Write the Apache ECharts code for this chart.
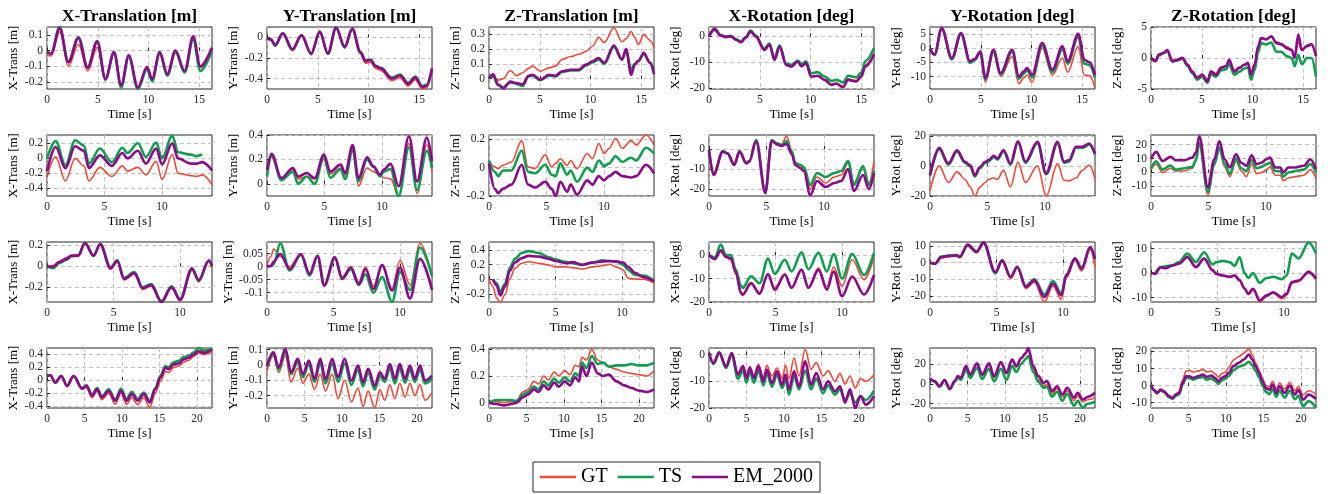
<!DOCTYPE html>
<html><head><meta charset="utf-8">
<script src="https://cdn.jsdelivr.net/npm/echarts@6/dist/echarts.min.js"></script>
<style>html,body{margin:0;padding:0;background:#fff}#c{width:1330px;height:494px}</style>
</head><body><div id="c"></div>
<script>
// ---------- DATA ----------
const colTitles = ['X-Translation [m]','Y-Translation [m]','Z-Translation [m]','X-Rotation [deg]','Y-Rotation [deg]','Z-Rotation [deg]'];
const yNames = ['X-Trans [m]','Y-Trans [m]','Z-Trans [m]','X-Rot [deg]','Y-Rot [deg]','Z-Rot [deg]'];
const seriesNames = ['GT','TS','EM_2000'];
const xMax = [16.25, 14.35, 12.4, 22];
const xTicksA = [0,5,10,15];
const xTicksB = [0,5,10];
const xTicksC = [0,5,10,15,20];

// Row 1
const T11=[0,0.4,1.25,2.1,3.1,4.0,4.95,5.75,6.6,7.3,8.05,8.95,9.85,10.35,11.1,11.85,12.65,13.55,14.4,15.1,16.25];
const GT11=[-0.03,-0.035,0.12,-0.1,0.04,-0.13,0.02,-0.19,-0.02,-0.225,-0.035,-0.235,-0.11,-0.185,-0.015,-0.155,-0.005,-0.135,0.08,-0.11,0.01];
const TS11=[-0.01,-0.02,0.15,-0.07,0.085,-0.105,0.06,-0.185,-0.015,-0.235,-0.04,-0.245,-0.12,-0.195,-0.02,-0.16,-0.01,-0.14,0.07,-0.13,0.0];
const EM11=[-0.01,-0.02,0.143,-0.075,0.08,-0.11,0.057,-0.18,-0.01,-0.22,-0.03,-0.235,-0.105,-0.18,-0.01,-0.15,0.0,-0.13,0.09,-0.1,0.02];
const YT11=[-0.2,-0.1,0,0.1], YR11=[-0.245,0.15];

const T12=[0,0.4,0.8,1.55,2.5,3.4,4.35,5.2,6.0,6.8,7.65,8.4,9.2,9.7,10.2,10.7,11.2,12.3,13.1,13.9,14.6,15.3,15.7,16.25];
const GT12=[-0.01,-0.03,-0.085,0.03,-0.13,0.01,-0.17,0.04,-0.165,0.085,-0.1,0.075,-0.16,-0.25,-0.24,-0.3,-0.32,-0.42,-0.39,-0.47,-0.41,-0.5,-0.49,-0.33];
const TS12=[-0.01,-0.02,-0.08,0.04,-0.12,0.02,-0.16,0.05,-0.16,0.09,-0.1,0.08,-0.15,-0.225,-0.215,-0.275,-0.295,-0.39,-0.36,-0.44,-0.38,-0.47,-0.46,-0.31];
const EM12=[-0.01,-0.02,-0.075,0.04,-0.115,0.02,-0.155,0.055,-0.155,0.095,-0.09,0.086,-0.14,-0.23,-0.22,-0.28,-0.3,-0.4,-0.37,-0.45,-0.39,-0.48,-0.47,-0.3];
const YT12=[-0.4,-0.2,0], YR12=[-0.5,0.1];

const T13=[0,0.4,0.9,1.4,2.1,2.7,3.3,3.9,4.3,5.05,5.9,6.55,7.2,8.05,8.85,9.55,10.2,10.8,11.35,12.3,13.1,13.5,14.0,14.35,14.7,15.25,15.85,16.25];
const GT13=[0,0.01,-0.01,0.0,0.055,0.02,0.04,0.07,0.085,0.05,0.073,0.085,0.13,0.15,0.165,0.185,0.22,0.28,0.245,0.345,0.25,0.27,0.32,0.28,0.23,0.3,0.26,0.21];
const TS13=[0,0.02,-0.045,-0.06,-0.025,-0.035,-0.05,0.015,0.02,-0.01,0.02,0.015,0.045,0.055,0.055,0.09,0.11,0.13,0.1,0.215,0.13,0.19,0.06,0.1,0.12,0.165,0.11,0.06];
const EM13=[0,0.03,-0.04,-0.065,-0.02,-0.03,-0.04,0.02,0.027,-0.007,0.027,0.02,0.05,0.06,0.06,0.095,0.118,0.14,0.107,0.225,0.13,0.2,0.027,0.095,0.12,0.175,0.107,0.03];
const YT13=[0,0.1,0.2,0.3], YR13=[-0.07,0.35];

const T14=[0,0.55,1.15,1.65,2.15,2.65,3.15,3.6,4.1,4.6,5.45,5.95,6.45,6.95,7.6,8.1,8.75,9.1,9.55,10.05,10.7,11.4,12.05,12.55,13.2,13.7,14.5,15.0,15.4,16.25];
const GT14=[0,2.5,0.2,-0.3,0,-1.3,-2.3,-0.7,1.6,-0.2,-5.4,-3.5,-9.2,-4.2,-11.2,-11.8,-10,-11.7,-10.6,-15.6,-15.4,-16.9,-18.6,-18,-19.4,-16.5,-17,-15,-11,-6.5];
const TS14=[0,3,0.5,0,0.2,-1,-2,-0.3,2.2,0.3,-4.8,-2.8,-8.5,-3.5,-10.5,-11,-9.3,-10.8,-9.6,-14.2,-13.8,-15.5,-17.2,-16.8,-17.8,-15.2,-15.8,-14,-9.5,-4.5];
const EM14=[0,2.8,0.3,-0.3,0,-1.3,-2.3,-0.6,1.9,0,-5.2,-3.2,-9,-3.9,-11,-11.6,-9.7,-11.5,-10.3,-15.5,-15.2,-16.8,-18.7,-18.3,-19.6,-16.8,-17.4,-15.5,-11.6,-7];
const YT14=[-20,-10,0], YR14=[-20.3,3.6];

const T15=[0,0.45,1.15,2.15,3.05,3.95,4.4,4.95,5.45,6.25,6.95,8.1,8.75,9.25,9.55,10.05,11.05,12.05,13.05,13.55,14.6,15.2,15.7,16.25];
const GT15=[-0.3,-2.3,7,-3.7,5,-5,-4.2,-1.8,-12,-1.5,-10,-3,-12.5,-10.5,-9.5,-12,0,-9.5,-3.5,-8.5,0.5,-9.5,-9.7,-14];
const TS15=[-0.3,-2.4,6.8,-4,5,-5.2,-4.3,-1.5,-11,-1.2,-9.3,-1.2,-10.8,-9,-7.8,-10.3,0.8,-8.4,-0.3,-5.5,4,-5.5,-6,-10.5];
const EM15=[-0.3,-2.3,7,-3.5,5.3,-4.7,-3.9,-1.2,-10.5,-0.6,-8.8,-0.6,-10,-8.2,-7,-9.4,1.8,-7.6,0.6,-4.7,5,-4.1,-5,-9.4];
const YT15=[-10,-5,0,5], YR15=[-14.4,7.4];

const T16=[0,0.45,0.75,1.25,1.6,2.1,2.6,3.1,3.6,4.05,4.55,5.05,5.55,5.9,6.4,6.9,7.4,7.7,8.2,8.7,9.2,9.55,9.85,10.2,10.55,10.85,11.35,11.85,12.35,12.85,13.35,13.85,14.15,14.5,14.85,15.35,15.8,16.25];
const GT16=[0,-0.4,0.6,0.9,1.2,-0.4,-0.2,0.1,-1,-2.1,-3.1,-2.6,-3.6,-2.1,-2.5,-1.5,-1.2,-0.4,-2,-1.5,-1,-0.7,-2.5,-1,1.8,3.3,3.1,3.4,2.6,2.3,1.8,1.4,0.2,2.5,1.2,2.1,2.3,0.5];
const TS16=[0,-0.5,0.4,0.8,1.2,-0.6,-0.4,-0.1,-1.3,-2.4,-3.5,-3,-4,-2.6,-3,-2,-1.8,-1,-2.7,-2.2,-1.7,-1.5,-3.5,-2,1,2.4,2.2,2.5,1,1,0.3,0,-1.3,0.5,-1,0,0,-3];
const EM16=[0,-0.5,0.5,0.8,1.3,-0.5,-0.3,0,-1.1,-2.2,-3.2,-2.7,-3.8,-2.2,-2.7,-1.6,-1.3,-0.3,-2.2,-1.6,-1.1,-0.8,-2.7,-1.1,1.9,3.2,3,3.5,2.4,2.2,1.6,1.3,0,3.8,1.3,1.9,2.2,0.3];
const YT16=[-5,0,5], YR16=[-5,5];

// Row 2
const T21=[0,0.75,1.6,2.45,3.2,3.65,4.6,5.65,6.55,7.0,7.9,8.6,9.5,10.0,10.9,11.4,12.5,13.0,13.5,14.35];
const GT21=[-0.25,0.02,-0.3,0.0,-0.1,-0.3,-0.12,-0.24,-0.1,-0.17,-0.12,-0.22,-0.04,-0.28,0.05,-0.2,-0.23,-0.24,-0.22,-0.35];
const TS21=[0,0.23,-0.09,0.24,0.17,-0.07,0.13,-0.05,0.14,0.07,0.2,0.02,0.21,0.0,0.3,0.08,0.05,0.03,0.05,null];
const EM21=[-0.17,0.15,-0.13,0.16,0.1,-0.13,0.04,-0.1,0.07,0.0,0.1,-0.07,0.13,-0.08,0.2,0.0,-0.07,-0.07,-0.05,-0.16];
const YT21=[-0.4,-0.2,0,0.2], YR21=[-0.5,0.31];

const T22=[0,0.4,1.25,2.25,2.7,3.45,4.15,4.95,5.5,6.4,6.8,7.45,7.95,8.7,9.25,9.85,10.15,10.75,11.45,12.35,13.05,13.9,14.35];
const GT22=[0.1,0.22,0.04,0.12,0.04,0.06,0.04,0.2,0.08,0.13,0.07,0.3,-0.02,0.13,0.1,0.07,0.05,0.04,-0.1,0.33,-0.08,0.32,0.1];
const TS22=[0.06,0.23,0.03,0.1,0.0,0.06,0.0,0.22,0.05,0.12,0.04,0.28,0.02,0.2,0.14,0.06,0.1,0.12,-0.1,0.3,-0.05,0.27,0.13];
const EM22=[0.115,0.245,0.047,0.13,0.06,0.088,0.047,0.24,0.1,0.157,0.088,0.317,0.047,0.218,0.143,0.074,0.116,0.163,-0.02,0.39,0.02,0.38,0.185];
const YT22=[0,0.2,0.4], YR22=[-0.1,0.4];

const T23=[0,0.5,0.8,1.2,1.95,2.85,3.4,4.0,4.9,5.45,5.8,6.2,6.8,7.1,7.65,8.55,9.0,9.55,10.0,10.45,11.0,11.6,12.35,12.8,13.65,14.35];
const GT23=[0.05,0.005,-0.007,0.016,0.04,0.19,0.005,-0.007,0.09,0.005,0.03,0.063,0.016,0.05,-0.007,0.1,0.063,0.17,0.1,0.135,0.205,0.135,0.19,0.16,0.23,0.16];
const TS23=[0.05,-0.03,-0.06,-0.02,-0.02,0.12,-0.03,-0.04,0.02,-0.05,-0.06,0.03,-0.05,-0.02,-0.1,0.0,-0.03,0.05,0.01,0.03,0.08,0.04,0.07,0.05,0.14,0.1];
const EM23=[0.03,-0.15,-0.18,-0.15,-0.12,0.02,-0.12,-0.14,-0.1,-0.15,-0.2,-0.1,-0.17,-0.12,-0.19,-0.09,-0.12,-0.06,-0.09,-0.06,-0.03,-0.06,-0.07,-0.06,0.02,-0.04];
const YT23=[-0.2,0,0.2], YR23=[-0.2,0.23];

const T24=[0,0.4,1.2,1.6,2.2,2.65,3.25,3.5,4.1,4.9,5.45,5.9,6.3,6.75,7.2,7.5,7.95,8.25,8.8,9.4,10.15,10.9,11.5,12.1,12.6,13.4,13.9,14.35];
const GT24=[-0.5,-12.5,-1,-2,-7.8,-1,-7,-6,4.3,-21.5,4.3,3,2.3,6.5,-1,-7,-8,-9.5,-20,-14,-17,-14,-13,-7,-17,-10,-17,-6];
const TS24=[-0.5,-12.5,-1.2,-2.2,-7.8,-1.2,-7,-6,4.5,-21,4.5,2.8,2,4,-1.2,-7,-8,-9,-18,-12,-14,-12,-11,-6,-18,-8.5,-18,-11];
const EM24=[-0.5,-13,-1.3,-2.2,-8,-1.3,-7.2,-6.3,3.8,-22,4,2.3,1.5,2.5,-2.5,-8,-9.5,-11,-23,-16,-19,-17,-16,-10,-21,-13,-20,-12];
const YT24=[-20,-10,0], YR24=[-23.5,7];

const T25=[0,0.8,1.6,2.35,3.05,3.5,3.9,4.35,4.8,5.1,5.55,5.85,6.4,7.0,7.65,8.3,9.35,10.1,11.1,11.65,12.1,12.7,13.25,13.85,14.35];
const GT25=[-16.5,0,-11,-4,-9,-14,-20,-14,-11,-9,-8,-9,-3,-14,2.5,-11,0,-20,1.5,-9.5,-10,-8,-3,0.5,-8.5];
const TS25=[-6.5,11,0.8,9.6,2,-0.5,-7,-1.5,2,3,6,4.2,9.8,0.8,15.5,2,15,-5.5,15,2,3,12,12,14,7.5];
const EM25=[-6.2,12,1.6,10.4,2.7,0.4,-6.2,-0.7,2.7,3.8,6.7,4.9,10.4,1.6,16.4,2.7,16,-5.1,16,2.7,3.8,12.7,12.7,14.9,8.2];
const YT25=[-20,0,20], YR25=[-20,20.5];

const T26=[0,0.45,1.0,1.7,2.15,2.9,3.6,3.9,4.2,4.95,5.5,5.95,6.4,6.85,7.4,7.85,8.3,8.75,9.2,9.6,10.05,10.35,10.8,11.25,11.5,11.95,12.55,13.3,13.85,14.35];
const GT26=[2,6,0,3,1,1,3,8,20,-17,5,17,4,-3,8,1,-3,6,-1,0,2,4,-2,-2,-6,-4,-3,-2,2,-4];
const TS26=[3,8,2,5,2,3,4,9,21,-14,6,18,6,-1,10,3,1,9,3,4,6,7,1,1,-3,0,1,2,6,0];
const EM26=[9.5,14.8,8.3,11.2,8.8,8.8,10.7,14.3,26,-10.7,9.5,22.6,9.5,3.6,13,7,4.8,12.4,6,7,9.5,10.7,3.6,3.6,0,3.6,3.6,4.8,9.5,2.4];
const YT26=[-10,0,10,20], YR26=[-17,27];

// Row 3
const T31=[0,0.45,0.95,1.45,1.85,2.35,2.85,3.5,4.0,4.77,5.28,5.79,6.56,7.19,7.83,8.6,9.36,10.0,10.9,11.4,12.17,12.4];
const GT31=[0,0.005,0.05,0.08,0.105,0.11,0.225,0.1,0.205,-0.03,0.04,-0.13,-0.075,-0.22,-0.19,-0.345,-0.21,-0.33,-0.04,-0.15,0.05,-0.02];
const TS31=[0,-0.02,0.03,0.06,0.095,0.1,0.22,0.1,0.21,-0.01,0.055,-0.11,-0.055,-0.2,-0.17,-0.33,-0.19,-0.31,-0.03,-0.14,0.05,0.0];
const EM31=[0,-0.005,0.04,0.07,0.1,0.1,0.22,0.1,0.21,-0.02,0.05,-0.12,-0.065,-0.21,-0.18,-0.34,-0.2,-0.32,-0.02,-0.13,0.057,0.0];
const YT31=[-0.2,0,0.2], YR31=[-0.34,0.23];

const T32=[0,0.3,0.5,1.0,1.7,2.55,3.2,3.8,4.3,5.1,5.65,6.3,6.9,7.4,8.0,8.65,9.4,10.0,10.75,11.5,12.4];
const GT32=[0.006,0.04,0.068,0.04,0.0,0.045,-0.025,0.04,-0.07,0.03,-0.04,0.0,-0.06,0.0,-0.075,0.005,-0.085,0.025,-0.07,0.09,-0.04];
const TS32=[null,0.0,0.01,0.09,-0.015,0.045,-0.035,0.04,-0.07,0.035,-0.045,-0.01,-0.07,-0.03,-0.1,-0.04,-0.135,-0.02,-0.09,0.074,-0.035];
const EM32=[0,0.003,0.02,0.049,-0.009,0.049,-0.028,0.042,-0.073,0.036,-0.047,-0.003,-0.067,-0.009,-0.086,0.006,-0.092,-0.003,-0.122,0.03,-0.09];
const YT32=[-0.1,-0.05,0,0.05], YR32=[-0.136,0.095];

const T33=[0,0.3,0.56,0.85,1.2,1.57,1.95,2.46,2.97,3.73,4.5,5.0,5.76,6.27,7.03,7.8,8.55,9.06,9.57,10.08,10.45,10.96,11.6,12.4];
const GT33=[0,-0.1,-0.25,-0.32,-0.21,0.01,0.15,0.22,0.24,0.22,0.195,0.17,0.17,0.16,0.14,0.17,0.186,0.205,0.17,0.127,0.014,0.005,0.0,-0.05];
const TS33=[null,0,-0.05,-0.17,-0.06,0.16,0.28,0.36,0.385,0.36,0.3,0.27,0.24,0.22,0.195,0.23,0.26,0.25,0.24,0.2,0.127,0.06,0.05,-0.02];
const EM33=[null,0,-0.08,-0.22,-0.1,0.12,0.23,0.29,0.32,0.31,0.28,0.25,0.22,0.235,0.2,0.23,0.245,0.25,0.245,0.23,0.17,0.09,0.03,-0.03];
const YT33=[-0.2,0,0.2,0.4], YR33=[-0.31,0.51];

const T34=[0,0.43,0.89,1.27,1.65,2.0,2.4,2.53,3.16,3.8,4.43,4.94,5.7,6.2,6.96,7.47,8.23,8.86,9.37,10.0,10.76,11.65,12.4];
const GT34=[0,-1.5,1.5,-1,-2,-8,-16.5,-17.2,-12.5,-16,-8.5,-14,-8,-13.5,-6,-13.5,-5.5,-13.5,-5,-13.3,-2,-10.5,-0.7];
const TS34=[0,-1,4.5,0,0,-6,-13,-14,-9,-12,-1.5,-8,-2,-7,1.2,-6,1,-7,0.5,-10,0.5,-8.5,1];
const EM34=[0,-1.7,2.1,-0.7,-1.4,-7,-16,-16.8,-11.9,-16.5,-8.1,-14.7,-8.4,-14,-6.3,-14,-6.3,-14.7,-7,-17.5,-9.1,-16.8,-8.4];
const YT34=[-20,-10,0], YR34=[-20,5.6];

const T35=[0,0.38,0.84,1.35,2.0,2.24,2.82,3.5,4.02,4.91,5.42,6.06,6.56,7.2,7.84,8.6,9.24,9.87,10.25,10.89,11.4,12.04,12.4];
const GT35=[0,-0.8,2.8,3.5,4,3,10,6,11.5,-6.5,0.5,-9.5,-3.2,-15.5,-11.5,-23.5,-14,-22,-9,1.5,-5,8,-3];
const TS35=[0,-0.6,3.6,4.2,4.6,3.6,10.5,6.8,12,-6.5,1.4,-8.5,-2.5,-14,-10,-19,-11,-18.5,-7,2.5,-3,9,2];
const EM35=[0,-0.6,3.4,4,4.4,3.4,10.8,6.4,12,-5.6,1.4,-8.6,-2.6,-14.6,-10.6,-20.6,-12.6,-19.6,-7.6,2.4,-3.6,9.4,2.4];
const YT35=[-20,-10,0,10], YR35=[-23.6,12.4];

const T36=[0,0.33,0.71,1.09,1.6,2.1,2.73,3.37,4.0,4.63,4.89,5.39,5.9,6.28,6.66,7.04,7.3,7.67,8.18,8.68,9.19,9.82,10.2,10.58,11.09,11.85,12.4];
const GT36=[0,-0.2,2.2,2.2,3.3,4,7,2.8,6,1.5,0,-0.8,-1.3,-0.8,-2.5,-6,-8.8,-7,-11.8,-9.5,-8.2,-10.5,-9,-4,-3.5,0.8,-2.5];
const TS36=[null,0,2.4,2.8,3.1,4.5,8,4.5,8.5,3.5,4.5,5,4.5,3,6.5,0,-2,0,-4,-2,-1.5,-2.5,-1,8,6,12.5,8];
const EM36=[0,-0.3,2.4,2,3.1,3.8,6.5,2.4,5.9,1.1,-0.3,-1,-1.6,-1,-3,-6.4,-8.4,-6.4,-11.2,-9.1,-7.8,-9.8,-8.4,-3.7,-3,0.4,-2.3];
const YT36=[-10,0,10], YR36=[-11.8,12.7];

// Row 4
const T41=[0,0.44,1.1,1.9,2.67,3.55,4.67,5.25,6.0,6.67,7.33,8.22,9.1,9.87,10.6,11.3,12.1,12.9,13.7,14.45,15.1,15.8,16.2,16.9,17.55,18.2,18.9,19.55,20.2,20.9,22];
const GT41=[0.067,0.077,-0.036,0.067,-0.09,0.06,-0.14,-0.11,-0.27,-0.17,-0.3,-0.2,-0.37,-0.2,-0.37,-0.27,-0.38,-0.27,-0.42,-0.2,-0.02,0.14,0.12,0.2,0.22,0.28,0.31,0.37,0.42,0.4,0.45];
const TS41=[0.067,0.077,-0.036,0.067,-0.087,0.067,-0.12,-0.08,-0.22,-0.12,-0.25,-0.14,-0.3,-0.13,-0.29,-0.18,-0.29,-0.19,-0.32,-0.12,0.07,0.22,0.2,0.28,0.3,0.36,0.38,0.43,0.5,0.46,0.49];
const EM41=[0.067,0.077,-0.036,0.067,-0.087,0.067,-0.128,-0.087,-0.24,-0.138,-0.267,-0.164,-0.318,-0.164,-0.318,-0.215,-0.318,-0.215,-0.344,-0.138,0.04,0.195,0.17,0.246,0.26,0.323,0.35,0.4,0.45,0.425,0.477];
const YT41=[-0.4,-0.2,0,0.2,0.4], YR41=[-0.43,0.5];

const T42=[0,0.85,1.56,2.45,3.2,4.1,4.78,5.58,6.34,7.1,7.8,8.7,9.46,10.36,11.25,12.14,12.8,13.48,14.37,15.04,15.7,16.38,17.05,17.7,18.4,19.06,19.7,20.4,21.07,22];
const GT42=[-0.04,0.06,-0.05,0.06,-0.11,-0.02,-0.12,-0.06,-0.16,-0.06,-0.17,-0.06,-0.22,-0.1,-0.24,-0.15,-0.27,-0.17,-0.28,-0.16,-0.23,-0.13,-0.22,-0.12,-0.21,-0.12,-0.2,-0.13,-0.23,-0.18];
const TS42=[-0.01,0.075,-0.03,0.09,-0.06,0.02,-0.08,0.005,-0.11,0.015,-0.12,0.01,-0.11,0.01,-0.13,-0.03,-0.14,-0.05,-0.16,-0.07,-0.11,-0.02,-0.12,-0.02,-0.115,-0.03,-0.11,-0.03,-0.12,-0.09];
const EM42=[-0.004,0.083,-0.015,0.104,-0.048,0.039,-0.059,0.028,-0.091,0.039,-0.091,0.039,-0.08,0.039,-0.102,-0.004,-0.113,-0.026,-0.135,-0.048,-0.09,0.006,-0.091,0.006,-0.09,-0.004,-0.09,-0.004,-0.102,-0.07];
const YT42=[-0.2,-0.1,0,0.1], YR42=[-0.28,0.11];

const T43=[0,1,2,3,3.7,4.5,5.2,6,6.6,7.3,7.9,8.7,9.3,10.1,10.8,11.5,12.0,12.4,13.0,13.7,14.5,15.2,16,17,18,19,20,21,22];
const GT43=[0,0.01,0.0,0.01,0.02,0.08,0.1,0.16,0.14,0.2,0.17,0.23,0.2,0.24,0.21,0.28,0.27,0.34,0.32,0.4,0.32,0.3,0.27,0.25,0.23,0.22,0.21,0.2,0.24];
const TS43=[0,0.02,0.02,0.02,0.01,0.06,0.08,0.12,0.1,0.16,0.13,0.18,0.15,0.19,0.16,0.22,0.2,0.3,0.26,0.35,0.29,0.3,0.27,0.28,0.28,0.29,0.28,0.28,0.3];
const EM43=[0,-0.01,-0.02,-0.01,0.0,0.04,0.06,0.1,0.08,0.13,0.1,0.15,0.12,0.16,0.13,0.19,0.16,0.27,0.2,0.3,0.22,0.2,0.21,0.16,0.13,0.11,0.09,0.08,0.1];
const YT43=[0,0.2,0.4], YR43=[-0.04,0.41];

const T44=[0,0.6,1.36,2.27,3.04,3.85,4.54,5.0,5.44,6.0,6.58,7.26,7.7,8.4,9.07,9.75,10.2,10.66,11.34,12.0,12.83,13.6,14.3,15.2,15.87,16.8,17.46,18.14,18.8,19.5,20.2,20.9,22];
const GT44=[0.6,-3,1,-4.2,0.8,-7,-4,-8,-4.5,-8,-3.5,-8.5,-4,-8,-5,-9,-4,-9,-1.25,-8,2,-5.5,-3,-8,-6,-10,-7,-11,-8,-12.5,-9,-10,-7.5];
const TS44=[0.6,-3.5,0.5,-5,0,-9,-6,-10.5,-6.5,-10.5,-6,-11.5,-7,-12,-7.5,-12.5,-9,-15,-8,-13,-6,-13,-9,-14.5,-11.5,-15,-13,-17,-14.5,-18,-15.5,-17,-13.5];
const EM44=[0.6,-3.1,0.9,-4.4,0.6,-7.5,-4.4,-8.75,-5,-8.75,-4.4,-10,-5.6,-10.6,-6.25,-11.25,-7.5,-13,-6.25,-11.9,-2.5,-11.25,-6.9,-13,-10,-13.75,-11.9,-18,-13,-20,-15.6,-18.75,-15.6];
const YT44=[-20,-10,0], YR44=[-20,2.5];

const T45=[0,0.6,1.27,1.95,2.64,3.3,3.7,4.1,4.8,5.36,6.27,6.95,7.86,8.55,9.45,10.2,10.95,11.5,12.18,12.77,13.1,13.77,14.45,15.14,15.6,16.27,16.95,17.64,18.3,19.2,19.7,20.36,21.05,22];
const GT45=[5,2.5,-2.6,3.5,-5.2,2.5,7.2,5.5,16.5,8.5,19.5,8.5,19,6.5,20.5,10,23.5,17,25,30,35,15,4,-2,-1,-10,-5,-13,-7,-17,-12,-18,-16,-14];
const TS45=[5,2.5,-2.8,3.3,-5.5,2,6.5,4,14,6,16,5,15,2.5,15,4,18,12,20,25,28,12,2,-4,-3,-13,-8,-17,-10,-22,-17,-24,-20,-18];
const EM45=[5,2.7,-2.4,3.7,-5,2.7,7.7,6,17.8,9.4,20.5,9.4,20.5,7.7,21.8,11,24.5,17.8,26,31,36,17.8,7.7,1,2.7,-7.4,-2.4,-10.8,-4,-14,-9,-15.8,-13,-9];
const YT45=[-20,0,20], YR45=[-24.3,36];

const T46=[0,0.36,0.8,1.27,1.72,2.4,2.86,3.3,3.76,4.2,4.67,5.1,5.58,6.26,6.94,7.4,8.07,8.5,9.0,9.43,9.9,10.34,11.0,11.7,12.38,13.06,13.5,13.97,14.4,14.88,15.3,15.78,16.24,16.69,17.14,17.82,18.5,19.2,19.64,20.3,21.0,22];
const GT46=[0.6,-2.2,-4,-2,-3,-6,-7,-5,-3.5,3,8.5,9,8,8.5,9.5,8,8.5,7,5,7,8,10.5,15,17,19,21.5,18,13,9,4,0,-0.5,2.5,-2,1.5,-2,2,-3,-0.5,-5.5,-3,-5];
const TS46=[0.6,-2.6,-4.6,-2.8,-3.8,-6.8,-7.8,-6,-5,0.5,4.5,4.5,3.5,4.5,5,3.5,4.2,3,1,3,4,5.5,9,11,12,14,12,8.5,5,0,-3.5,-5,-2,-6.5,-3,-7,-3,-8,-6,-12,-9,-13];
const EM46=[0.6,-2.4,-4.3,-2.4,-3.3,-6.3,-7.3,-5.3,-4.3,1.6,5.5,5.5,4.5,5.5,6.5,5.1,5.9,4.5,2.5,4.5,5.5,7.5,11.4,13.3,15.3,18.2,15.3,11.4,7.5,2.5,-1.4,-2.4,0.6,-4.3,-0.4,-4.3,0,-5.3,-2.4,-8.2,-5.3,-7.8];
const YT46=[-10,0,10,20], YR46=[-13.1,22];

// ---------- ASSEMBLY ----------
const panels = [
  [T11,GT11,TS11,EM11,YT11,YR11],[T12,GT12,TS12,EM12,YT12,YR12],[T13,GT13,TS13,EM13,YT13,YR13],
  [T14,GT14,TS14,EM14,YT14,YR14],[T15,GT15,TS15,EM15,YT15,YR15],[T16,GT16,TS16,EM16,YT16,YR16],
  [T21,GT21,TS21,EM21,YT21,YR21],[T22,GT22,TS22,EM22,YT22,YR22],[T23,GT23,TS23,EM23,YT23,YR23],
  [T24,GT24,TS24,EM24,YT24,YR24],[T25,GT25,TS25,EM25,YT25,YR25],[T26,GT26,TS26,EM26,YT26,YR26],
  [T31,GT31,TS31,EM31,YT31,YR31],[T32,GT32,TS32,EM32,YT32,YR32],[T33,GT33,TS33,EM33,YT33,YR33],
  [T34,GT34,TS34,EM34,YT34,YR34],[T35,GT35,TS35,EM35,YT35,YR35],[T36,GT36,TS36,EM36,YT36,YR36],
  [T41,GT41,TS41,EM41,YT41,YR41],[T42,GT42,TS42,EM42,YT42,YR42],[T43,GT43,TS43,EM43,YT43,YR43],
  [T44,GT44,TS44,EM44,YT44,YR44],[T45,GT45,TS45,EM45,YT45,YR45],[T46,GT46,TS46,EM46,YT46,YR46]
];
const xTickRows = [xTicksA, xTicksB, xTicksB, xTicksC];

const F = '"Liberation Serif","Times New Roman",serif';
const colors = ['#F0483A','#0E9F4E','#8B0A8B'];
const widths = [1.6, 2.6, 2.6];
const gridLeft = [47,267,489,709,930,1151];
const gridTop = [27,135,242,348];
const gridH = [62,61,60,60];
const gridW = 165;
const fmt = v => String(+(+v).toFixed(3));

const grids=[], xAxes=[], yAxes=[], series=[], graphics=[];
panels.forEach((p,i)=>{
  const r=Math.floor(i/6), c=i%6;
  grids.push({left:gridLeft[c], top:gridTop[r], width:gridW, height:gridH[r], show:true,
    borderColor:'#262626', borderWidth:1, backgroundColor:'rgba(0,0,0,0)'});
  const split = {show:true, lineStyle:{type:[4,3], color:'#c2c2c2', width:1}};
  xAxes.push({type:'value', gridIndex:i, min:0, max:xMax[r],
    name:'Time [s]', nameLocation:'middle', nameGap:19,
    nameTextStyle:{fontFamily:F, fontSize:13, color:'#000'},
    axisLine:{show:false},
    axisTick:{show:true, inside:true, length:3, lineStyle:{color:'#262626'}, customValues:xTickRows[r]},
    axisLabel:{fontFamily:F, fontSize:11.5, color:'#262626', margin:5, customValues:xTickRows[r], formatter:fmt},
    splitLine:split});
  yAxes.push({type:'value', gridIndex:i, min:p[5][0], max:p[5][1],
    name:yNames[c], nameLocation:'middle', nameGap:27, nameRotate:90,
    nameTextStyle:{fontFamily:F, fontSize:13, color:'#000'},
    axisLine:{show:false},
    axisTick:{show:true, inside:true, length:3, lineStyle:{color:'#262626'}, customValues:p[4]},
    axisLabel:{fontFamily:F, fontSize:11.5, color:'#262626', margin:4, customValues:p[4], formatter:fmt},
    splitLine:split});
  for(let s=0;s<3;s++){
    const vals = p[1+s];
    series.push({type:'line', name:seriesNames[s], xAxisIndex:i, yAxisIndex:i,
      data: p[0].map((t,k)=>[t, vals[k]]),
      showSymbol:false, symbol:'none', smooth:0.35, smoothMonotone:'x',
      lineStyle:{color:colors[s], width:widths[s]}, itemStyle:{color:colors[s]},
      emphasis:{disabled:true}, silent:true, z:2+s});
  }
});
colTitles.forEach((t,c)=>{
  graphics.push({type:'text', x:gridLeft[c]+gridW/2, y:16,
    style:{text:t, textAlign:'center', textVerticalAlign:'middle',
      fontFamily:F, fontSize:17.5, fontWeight:'bold', fill:'#000'}});
});

const chart = echarts.init(document.getElementById('c'), null, {renderer:'canvas'});
chart.setOption({
  animation:false,
  backgroundColor:'#fff',
  grid:grids, xAxis:xAxes, yAxis:yAxes, series:series, graphic:graphics,
  legend:{data:seriesNames, left:533, top:462, orient:'horizontal', icon:'rect',
    itemWidth:36, itemHeight:2.5, itemGap:10,
    textStyle:{fontFamily:F, fontSize:20, color:'#000'},
    borderColor:'#262626', borderWidth:1, padding:[5,7,5,7], backgroundColor:'#fff',
    selectedMode:false}
});
</script>
</body></html>
